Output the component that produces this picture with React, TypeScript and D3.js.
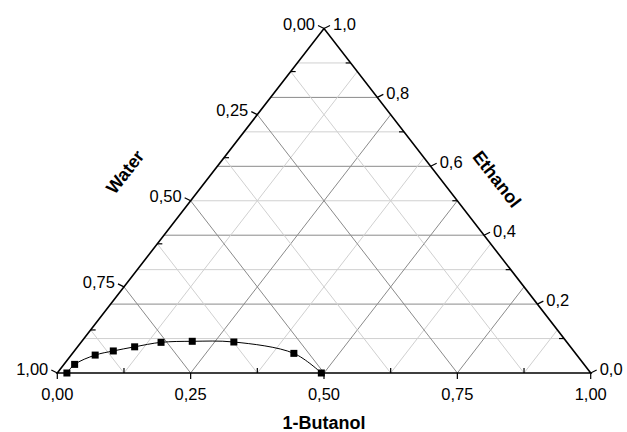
import * as React from "react";
import * as d3 from "d3";

// tie-line / binodal points (mass fractions)
const butanol = [0.018, 0.02, 0.045, 0.073, 0.107, 0.15, 0.207, 0.286, 0.415, 0.495];
const ethanol = [0.0, 0.025, 0.052, 0.064, 0.076, 0.089, 0.092, 0.09, 0.057, 0.0];

const bottomTicks = [0, 0.25, 0.5, 0.75, 1];
const bottomLabels = ["0,00", "0,25", "0,50", "0,75", "1,00"];
const leftTicks = [0, 0.25, 0.5, 0.75, 1];
const leftLabels = ["0,00", "0,25", "0,50", "0,75", "1,00"];
const rightTicks = [0, 0.2, 0.4, 0.6, 0.8, 1];
const rightLabels = ["0,0", "0,2", "0,4", "0,6", "0,8", "1,0"];
const eighthMinor = [0.125, 0.375, 0.625, 0.875];
const tenthMinor = [0.1, 0.3, 0.5, 0.7, 0.9];
const gridEighths = [0.125, 0.25, 0.375, 0.5, 0.625, 0.75, 0.875];
const gridTenths = [0.1, 0.2, 0.3, 0.4, 0.5, 0.6, 0.7, 0.8, 0.9];

const width = 627;
const height = 432;
const font = "'Liberation Sans', Arial, sans-serif";

export default function App() {
  const ref = React.useRef<SVGSVGElement>(null);

  React.useEffect(() => {
    const svg = d3.select(ref.current);
    svg.selectAll("*").remove();

    const xScale = d3.scaleLinear().domain([0, 1]).range([57.3, 590.7]);
    const yScale = d3.scaleLinear().domain([0, 1]).range([373, 28.5]);

    // b = butanol, e = ethanol (water is the rest)
    const pt = (b: number, e: number): [number, number] => [xScale(b + e / 2), yScale(e)];

    const darkGrid = "#8a8a8a";
    const lightGrid = "#d0d0d0";

    // grid: constant ethanol (horizontal)
    gridTenths.forEach((e, i) => {
      const a = pt(0, e), c = pt(1 - e, e);
      svg.append("line")
        .attr("x1", a[0]).attr("y1", a[1]).attr("x2", c[0]).attr("y2", c[1])
        .attr("stroke", i % 2 === 1 ? darkGrid : lightGrid)
        .attr("stroke-width", 1);
    });
    // constant butanol (parallel to left side)
    gridEighths.forEach((b, i) => {
      const a = pt(b, 0), c = pt(b, 1 - b);
      svg.append("line")
        .attr("x1", a[0]).attr("y1", a[1]).attr("x2", c[0]).attr("y2", c[1])
        .attr("stroke", i % 2 === 1 ? darkGrid : lightGrid)
        .attr("stroke-width", 1);
    });
    // constant water (parallel to right side)
    gridEighths.forEach((w, i) => {
      const a = pt(1 - w, 0), c = pt(0, 1 - w);
      svg.append("line")
        .attr("x1", a[0]).attr("y1", a[1]).attr("x2", c[0]).attr("y2", c[1])
        .attr("stroke", i % 2 === 1 ? darkGrid : lightGrid)
        .attr("stroke-width", 1);
    });

    // triangle
    const corners = [pt(0, 0), pt(1, 0), pt(0, 1)];
    svg.append("path")
      .attr("d", "M" + corners.map(c => c.join(",")).join("L") + "Z")
      .attr("fill", "none")
      .attr("stroke", "#000")
      .attr("stroke-width", 1.6)
      .attr("stroke-linejoin", "miter");

    const tick = (p: [number, number], dx: number, dy: number) =>
      svg.append("line")
        .attr("x1", p[0]).attr("y1", p[1]).attr("x2", p[0] + dx).attr("y2", p[1] + dy)
        .attr("stroke", "#000").attr("stroke-width", 1.2);

    const label = (x: number, y: number, t: string, anchor: string) =>
      svg.append("text")
        .attr("x", x).attr("y", y)
        .attr("text-anchor", anchor)
        .attr("font-family", font)
        .attr("font-size", 16.5)
        .attr("fill", "#000")
        .text(t);

    // bottom axis: 1-Butanol
    bottomTicks.forEach((b, i) => {
      const p = pt(b, 0);
      tick(p, 0, 6);
      label(p[0], 400, bottomLabels[i], "middle");
    });
    eighthMinor.forEach(b => tick(pt(b, 0), 0, -5));

    // left axis: Water (0 at apex, 1 at bottom-left)
    leftTicks.forEach((w, i) => {
      const p = pt(0, 1 - w);
      tick(p, -6, -3);
      label(p[0] - 9, p[1] - 4 + 5.5, leftLabels[i], "end");
    });
    eighthMinor.forEach(w => tick(pt(0, 1 - w), 5, 0));

    // right axis: Ethanol
    rightTicks.forEach((e, i) => {
      const p = pt(1 - e, e);
      tick(p, 6, -3);
      label(p[0] + 9, p[1] - 4 + 5.5, rightLabels[i], "start");
    });
    tenthMinor.forEach(e => tick(pt(1 - e, e), -5, 0));

    // axis titles
    const title = (x: number, y: number, rot: number, t: string) =>
      svg.append("text")
        .attr("transform", `translate(${x},${y}) rotate(${rot})`)
        .attr("text-anchor", "middle")
        .attr("dy", "0.35em")
        .attr("font-family", font)
        .attr("font-size", 18)
        .attr("font-weight", "bold")
        .attr("fill", "#000")
        .text(t);
    title(xScale(0.5), 423, 0, "1-Butanol");
    title(125, 172, -52, "Water");
    title(497, 179, 52, "Ethanol");

    // data curve
    const pts = butanol.map((b, i) => pt(b, ethanol[i]));
    const line = d3.line().curve(d3.curveCatmullRom.alpha(0.5));
    svg.append("path")
      .attr("d", line(pts))
      .attr("fill", "none")
      .attr("stroke", "#000")
      .attr("stroke-width", 1);
    svg.selectAll(".marker")
      .data(pts).enter()
      .append("rect")
      .attr("class", "marker")
      .attr("x", d => d[0] - 3.5)
      .attr("y", d => d[1] - 3.5)
      .attr("width", 7)
      .attr("height", 7)
      .attr("fill", "#000");
  }, []);

  return <svg ref={ref} width={width} height={height}
    style={{position: "absolute", left: 0, top: 0, background: "#fff"}}/>;
}
